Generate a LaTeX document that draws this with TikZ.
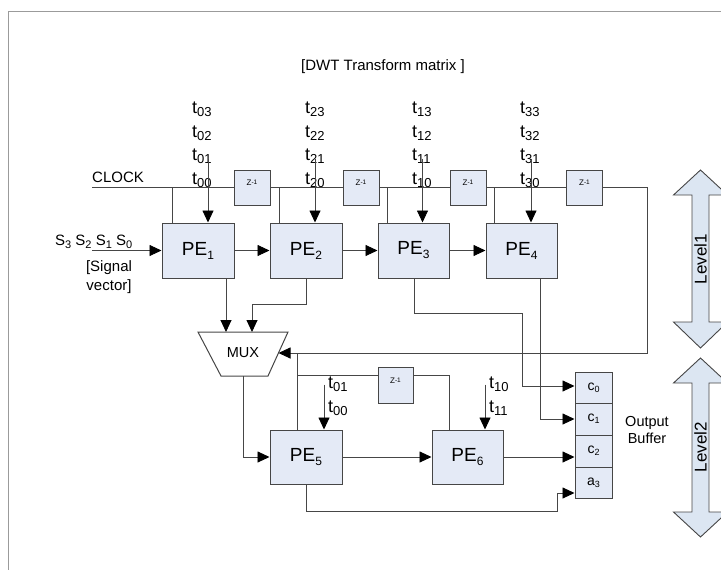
\documentclass[tikz,border=0pt]{standalone}
\usepackage{fontspec}
\setmainfont{Liberation Sans}
\usetikzlibrary{arrows.meta}
\definecolor{boxfill}{RGB}{228,234,246}
\definecolor{arrfill}{RGB}{220,230,242}
\definecolor{ln}{RGB}{70,70,70}
\definecolor{framec}{RGB}{155,155,155}
\newcommand{\subx}[3]{\raisebox{#2}{\fontsize{#1}{#1}\selectfont #3}}
\newcommand{\tlab}[1]{t\subx{13}{-3pt}{#1}}
\tikzset{
  pebox/.style={draw=ln, fill=boxfill, line width=1pt, minimum width=72pt, minimum height=55pt, inner sep=0pt, font=\fontsize{19}{19}\selectfont},
  zbox/.style={draw=ln, fill=boxfill, line width=1pt, minimum width=36pt, minimum height=35pt, inner sep=0pt, text height=6pt, text depth=10pt, font=\fontsize{8}{8}\selectfont},
  cell/.style={draw=ln, fill=boxfill, line width=1pt, minimum width=37pt, inner sep=0pt, font=\fontsize{14}{14}\selectfont},
  wire/.style={draw=ln, line width=0.9pt},
  arr/.style={wire, -{Triangle[length=12pt,width=11pt,color=black]}},
  tl/.style={anchor=base west, inner sep=0pt, font=\fontsize{18}{18}\selectfont},
  txt/.style={inner sep=0pt, font=\fontsize{15}{15}\selectfont},
  lvarrow/.style={draw=ln, fill=arrfill, line width=0.9pt},
}
\newcommand{\zt}{Z\subx{6.5}{1pt}{-1}}
\begin{document}
\begin{tikzpicture}[x=1pt,y=-1pt]
\useasboundingbox (0,0) rectangle (721,570);
% frame
\draw[framec, line width=1.6pt] (8.5,570) -- (8.5,11.5) -- (721,11.5);

% level arrows
\draw[lvarrow] (700.5,170) -- (727.5,195) -- (709,195) -- (709,322) -- (727.5,322) -- (700.5,348) -- (673.5,322) -- (692,322) -- (692,195) -- (673.5,195) -- cycle;
\draw[lvarrow] (700.5,358) -- (727.5,383) -- (709,383) -- (709,512) -- (727.5,512) -- (700.5,537) -- (673.5,512) -- (692,512) -- (692,383) -- (673.5,383) -- cycle;
\node[rotate=90, inner sep=0pt, font=\fontsize{17}{17}\selectfont] (lv1) at (700.5,259) {Level1};
\node[rotate=90, inner sep=0pt, font=\fontsize{17}{17}\selectfont] (lv2) at (700.5,447) {Level2};

% title
\node[txt] (title) at (383,67) {[DWT Transform matrix ]};

% PE boxes
\node[pebox] (pe1) at (198,250.5) {PE\subx{12}{-4pt}{1}};
\node[pebox] (pe2) at (306,250.5) {PE\subx{12}{-4pt}{2}};
\node[pebox, minimum width=71pt] (pe3) at (413.5,250.5) {PE\subx{12}{-4pt}{3}};
\node[pebox, minimum width=71pt] (pe4) at (521.5,250.5) {PE\subx{12}{-4pt}{4}};
\node[pebox, minimum height=54pt] (pe5) at (306,457) {PE\subx{12}{-4pt}{5}};
\node[pebox, minimum width=71pt, minimum height=54pt] (pe6) at (467.5,457) {PE\subx{12}{-4pt}{6}};

% delay boxes
\node[zbox] (z1) at (252,187.5) {\zt};
\node[zbox] (z2) at (361,187.5) {\zt};
\node[zbox] (z3) at (468,187.5) {\zt};
\node[zbox] (z4) at (584.5,187.5) {\zt};
\node[zbox, minimum width=35pt, minimum height=36pt] (z5) at (395.5,385) {\zt};

% output buffer
\node[cell, minimum height=31pt] (c0) at (593.5,387.5) {c\subx{9}{-2pt}{0}};
\node[cell, minimum height=32pt] (c1) at (593.5,419) {c\subx{9}{-2pt}{1}};
\node[cell, minimum height=32pt] (c2) at (593.5,451) {c\subx{9}{-2pt}{2}};
\node[cell, minimum height=31pt] (a3) at (593.5,482.5) {a\subx{9}{-2pt}{3}};
\node[txt, align=center, font=\fontsize{14.5}{16.5}\selectfont] (ob) at (647,430) {Output\\Buffer};

% MUX
\draw[ln, line width=1pt] (198,332) -- (288,332) -- (268,376) -- (221,376) -- cycle;
\node[inner sep=0pt, font=\fontsize{14.5}{14.5}\selectfont] (mux) at (243,353) {MUX};
\coordinate (mux1) at (226,332);
\coordinate (mux2) at (252,332);
\coordinate (muxR) at (278.5,353);
\coordinate (muxB) at (243,376);

% texts
\node[txt, anchor=base west] (clock) at (92,182.5) {CLOCK};
\node[txt, anchor=base west] (sig) at (55,245) {S\subx{11}{-3pt}{3} S\subx{11}{-3pt}{2} S\subx{11}{-3pt}{1} S\subx{11}{-3pt}{0}};
\node[txt, align=center, font=\fontsize{15}{19}\selectfont] (sv) at (109,277) {[Signal\\vector]};

% t labels
\node[tl] (t03) at (192,113) {\tlab{03}};
\node[tl] (t02) at (192,137) {\tlab{02}};
\node[tl] (t01) at (192,160) {\tlab{01}};
\node[tl] (t00) at (192,184) {\tlab{00}};
\node[tl] (t23) at (305,113) {\tlab{23}};
\node[tl] (t22) at (305,137) {\tlab{22}};
\node[tl] (t21) at (305,160) {\tlab{21}};
\node[tl] (t20) at (305,184) {\tlab{20}};
\node[tl] (t13) at (412,113) {\tlab{13}};
\node[tl] (t12) at (412,137) {\tlab{12}};
\node[tl] (t11) at (412,160) {\tlab{11}};
\node[tl] (t10) at (412,184) {\tlab{10}};
\node[tl] (t33) at (520,113) {\tlab{33}};
\node[tl] (t32) at (520,137) {\tlab{32}};
\node[tl] (t31) at (520,160) {\tlab{31}};
\node[tl] (t30) at (520,184) {\tlab{30}};
\node[tl] (u01) at (328,388) {\tlab{01}};
\node[tl] (u00) at (328,412) {\tlab{00}};
\node[tl] (v10) at (489,388) {\tlab{10}};
\node[tl] (v11) at (489,412) {\tlab{11}};

% clock line
\coordinate (clk) at (92,187.5);
\coordinate (fbR) at (647,187.5);
\draw[wire] (clk) -- (z1.west);
\draw[wire] (z1.east) -- (z2.west);
\draw[wire] (z2.east) -- (z3.west);
\draw[wire] (z3.east) -- (z4.west);
\draw[arr] (z4.east) -- (fbR) -- (fbR |- muxR) -- (muxR);

% clock drops
\draw[wire] ([xshift=-26pt]pe1.north) -- ([xshift=-26pt]pe1.north |- clk);
\draw[wire] ([xshift=-27pt]pe2.north) -- ([xshift=-27pt]pe2.north |- clk);
\draw[wire] ([xshift=-26.5pt]pe3.north) -- ([xshift=-26.5pt]pe3.north |- clk);
\draw[wire] ([xshift=-27.5pt]pe4.north) -- ([xshift=-27.5pt]pe4.north |- clk);

% coefficient arrows
\draw[arr] ([shift={(10,-64)}]pe1.north) -- ([xshift=10pt]pe1.north);
\draw[arr] ([shift={(9,-64)}]pe2.north) -- ([xshift=9pt]pe2.north);
\draw[arr] ([shift={(9,-64)}]pe3.north) -- ([xshift=9pt]pe3.north);
\draw[arr] ([shift={(9.5,-64)}]pe4.north) -- ([xshift=9.5pt]pe4.north);
\draw[arr] ([shift={(18,-45)}]pe5.north) -- ([xshift=18pt]pe5.north);
\draw[arr] ([shift={(17.5,-45)}]pe6.north) -- ([xshift=17.5pt]pe6.north);

% signal input and chain
\coordinate (sin) at (92,250.5);
\draw[arr] (sin) -- (pe1.west);
\draw[arr] (pe1) -- (pe2);
\draw[arr] (pe2) -- (pe3);
\draw[arr] (pe3) -- (pe4);

% to MUX
\draw[arr] ([xshift=28pt]pe1.south) -- (mux1);
\draw[arr] (pe2.south) -- ++(0,26) -| (mux2);

% to buffer
\coordinate (p3a) at (522,313);
\draw[arr] ([xshift=0.5pt]pe3.south) |- (p3a) |- ([yshift=1.5pt]c0.west);
\draw[arr] ([xshift=18.5pt]pe4.south) |- (c1.west);

% level 2
\draw[arr] (muxB) |- (pe5.west);
\draw[wire] ([xshift=-9pt]pe5.north) -- ([xshift=-9pt]pe5.north |- muxR);
\draw[wire] ([xshift=-9pt,yshift=10pt]pe5.north |- z5.west) -- ([yshift=10pt]z5.west);
\draw[wire] ([yshift=10pt]z5.east) -| ([xshift=-18.5pt]pe6.north);
\draw[arr] (pe5) -- (pe6);
\draw[arr] (pe6.east) -- (pe6.east -| c2.west);
\coordinate (p5a) at (557,511);
\draw[arr] (pe5.south) |- (p5a) |- ([yshift=-10.5pt]a3.west);
\end{tikzpicture}
\end{document}
